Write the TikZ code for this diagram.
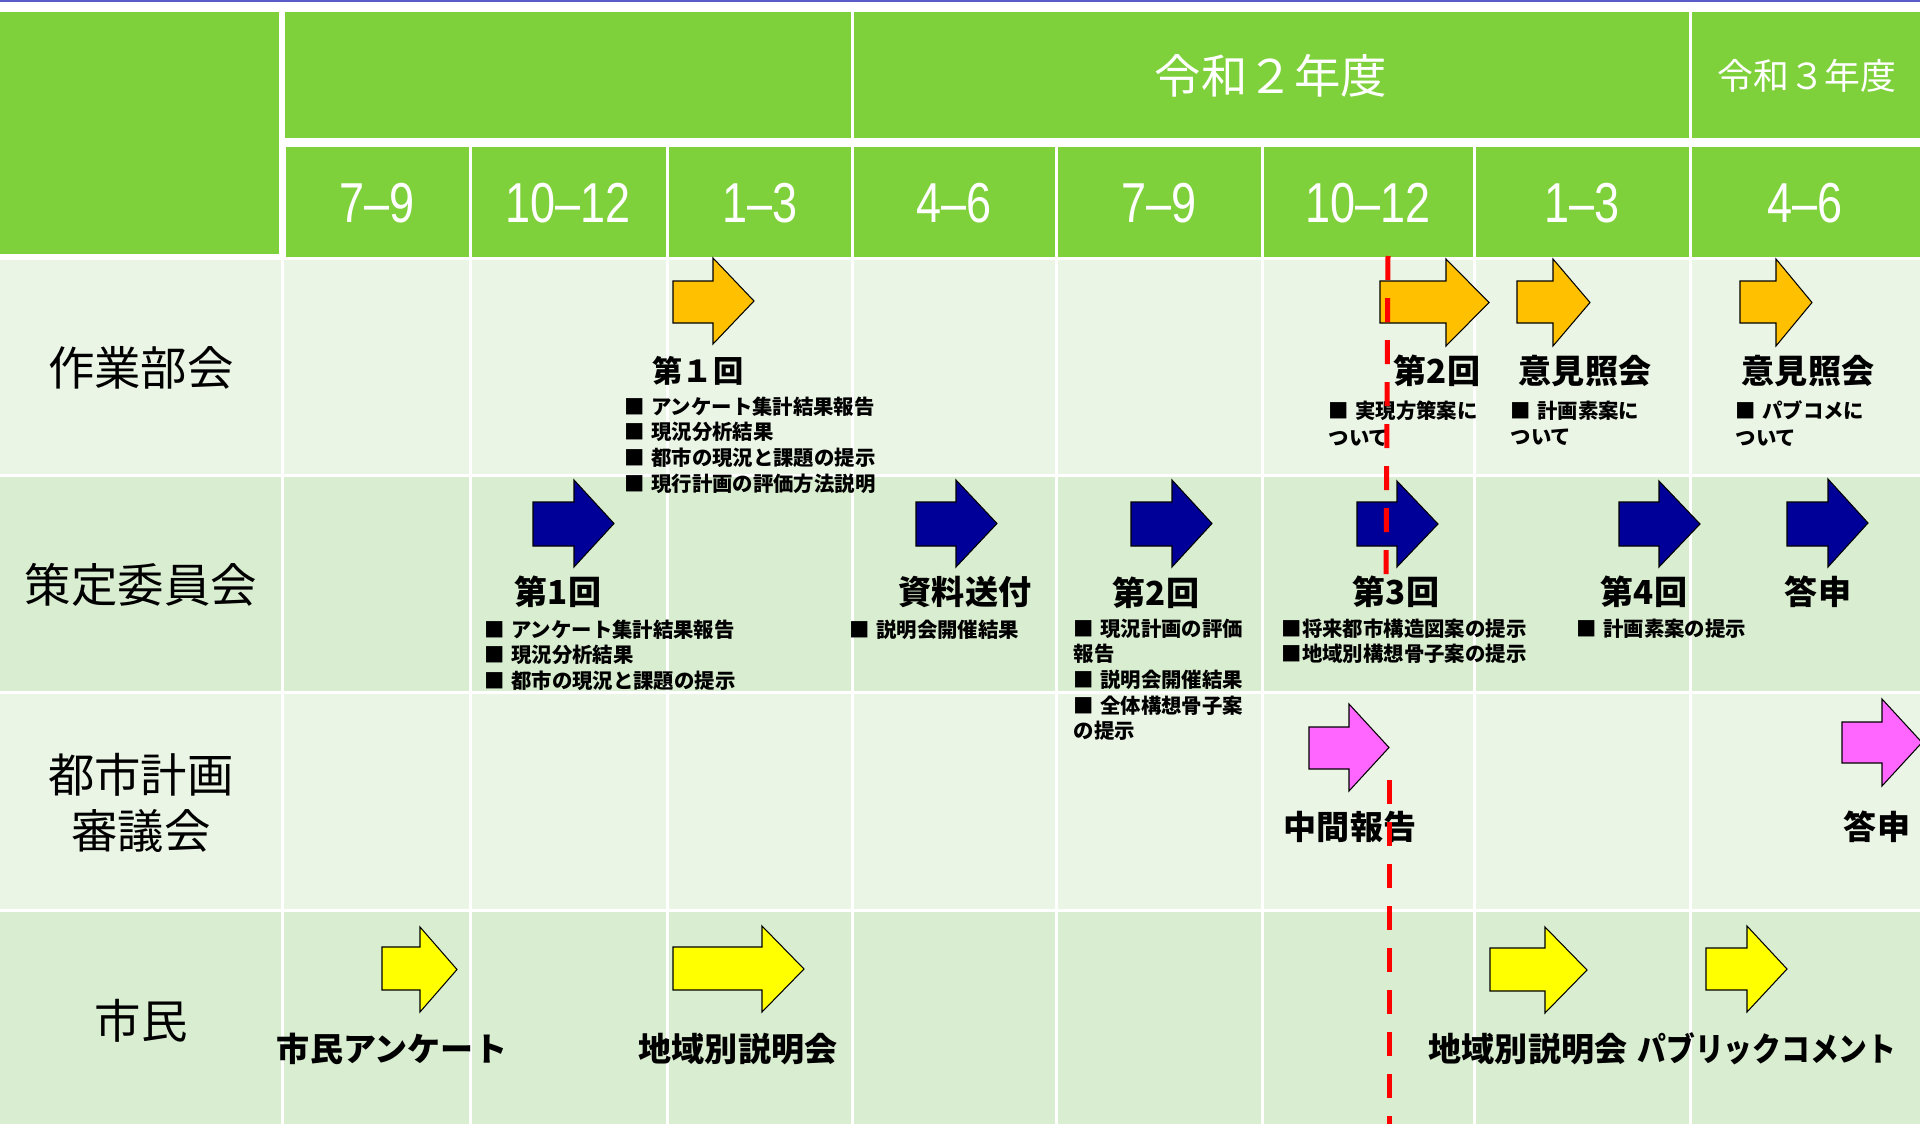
\documentclass[tikz,border=0pt]{standalone}
\usepackage{fontspec}
\setmainfont{Noto Sans CJK JP}
\newfontfamily\jp{Noto Sans CJK JP}
\newfontfamily\qf{Liberation Sans}[FakeStretch=0.8]
\definecolor{hdr}{RGB}{127,209,59}
\definecolor{rowA}{RGB}{235,245,230}
\definecolor{rowB}{RGB}{217,237,208}
\definecolor{topline}{RGB}{90,90,200}
\definecolor{orangeA}{RGB}{255,192,0}
\definecolor{navyA}{RGB}{0,0,153}
\definecolor{pinkA}{RGB}{255,102,255}
\definecolor{yellowA}{RGB}{255,255,0}
\definecolor{redA}{RGB}{255,0,0}
\newcommand{\barrow}[8]{%
  \fill[#1, draw=black, line width=0.3pt]
    (#2,#6) -- (#3,#6) -- (#3,#5) -- (#4,{(#5+#8)/2}) -- (#3,#8) -- (#3,#7) -- (#2,#7) -- cycle;}
\newcommand{\bq}{■\hspace{0.3em}}
\tikzset{
  rowlab/.style={font=\jp\fontsize{13.2}{16}\selectfont, inner sep=0, align=center, text=black},
  yearlab/.style={font=\jp\fontsize{13.2}{15}\selectfont, inner sep=0, text=white},
  qlab/.style={font=\qf\fontsize{16}{18}\selectfont, inner sep=0, text=white},
  head/.style={font=\jp\bfseries\fontsize{9.4}{11}\selectfont, inner sep=0, text=black},
  bullets/.style={font=\jp\bfseries\fontsize{5.8}{7.3}\selectfont, inner sep=0, align=left, anchor=north west, text=black},
  gridw/.style={draw=white, line width=0.03cm},
  nowline/.style={draw=redA, line width=0.05cm, dash pattern=on 0.24cm off 0.18cm}
}
\begin{document}
\begin{tikzpicture}[x=0.01cm, y=-0.01cm]
\useasboundingbox (0,0) rectangle (1920,1124);
\clip (0,0) rectangle (1920,1124);
\fill[white] (0,0) rectangle (1920,1124);
% top line
\draw[topline, line width=0.015cm] (0,0.8) -- (1920,0.8);
% header
\fill[hdr] (0,12) rectangle (279,254);
\fill[hdr] (285,12) rectangle (1920,138);
\fill[hdr] (286,147) rectangle (1920,257);
\foreach \x in {852.5,1690.5} \draw[gridw] (\x,12) -- (\x,138);
\foreach \x in {470,667.5,852.5,1056,1262,1474,1690} \draw[gridw] (\x,147) -- (\x,257);
% body rows
\fill[rowA] (0,260) rectangle (1920,475);
\fill[rowB] (0,475) rectangle (1920,692);
\fill[rowA] (0,692) rectangle (1920,910);
\fill[rowB] (0,910) rectangle (1920,1124);
\foreach \y in {475.5,692.5,910.5} \draw[gridw] (0,\y) -- (1920,\y);
\foreach \x in {282.5,470,667.5,852.5,1056,1262,1474,1690} \draw[gridw] (\x,258) -- (\x,1124);

% header texts
\node[yearlab] (y2) at (1271,76) {令和２年度};
\node[yearlab, font=\jp\fontsize{10.2}{12}\selectfont] (y3) at (1807,76) {令和３年度};
\node[qlab] (q1) at (377,203) {7–9};
\node[qlab] (q2) at (568,203) {10–12};
\node[qlab] (q3) at (760,203) {1–3};
\node[qlab] (q4) at (954,203) {4–6};
\node[qlab] (q5) at (1159,203) {7–9};
\node[qlab] (q6) at (1368,203) {10–12};
\node[qlab] (q7) at (1582,203) {1–3};
\node[qlab] (q8) at (1805,203) {4–6};

% row labels
\node[rowlab] (r1) at (141,368) {作業部会};
\node[rowlab] (r2) at (141,585) {策定委員会};
\node[rowlab] (r3) at (141,803) {都市計画\\審議会};
\node[rowlab] (r4) at (141,1021) {市民};

% arrows row 1 (orange)
\barrow{orangeA}{673}{713}{754}{258}{281}{323}{344}
\barrow{orangeA}{1380}{1446}{1489}{259}{281}{323}{346}
\barrow{orangeA}{1517}{1553}{1590}{259}{281}{323}{346}
\barrow{orangeA}{1740}{1776}{1812}{259}{281}{323}{346}
% arrows row 2 (navy)
\barrow{navyA}{533}{574}{614}{480}{502}{546}{567}
\barrow{navyA}{916}{956}{997}{480}{502}{546}{567}
\barrow{navyA}{1131}{1172}{1212}{480}{502}{546}{567}
\barrow{navyA}{1357}{1397}{1438}{481}{502}{546}{567}
\barrow{navyA}{1619}{1659}{1700}{481}{502}{546}{567}
\barrow{navyA}{1787}{1828}{1868}{479}{502}{546}{567}
% arrows row 3 (pink)
\barrow{pinkA}{1309}{1349}{1389}{704}{727}{769}{791}
\barrow{pinkA}{1842}{1882}{1922}{699}{722}{763}{786}
% arrows row 4 (yellow)
\barrow{yellowA}{382}{420}{457}{927}{947}{990}{1012}
\barrow{yellowA}{673}{762}{804}{926}{947}{990}{1012}
\barrow{yellowA}{1490}{1545}{1587}{927}{948}{991}{1013}
\barrow{yellowA}{1706}{1747}{1787}{926}{948}{990}{1012}

% row 1 texts
\node[head, font=\jp\bfseries\fontsize{8.6}{10}\selectfont] (w1) at (698,371) {第１回};
\node[bullets] (w1b) at (624,396) {\bq アンケート集計結果報告\\\bq 現況分析結果\\\bq 都市の現況と課題の提示\\\bq 現行計画の評価方法説明};
\node[head] (w2) at (1437,371) {第2回};
\node[bullets, font=\jp\bfseries\fontsize{5.8}{7.6}\selectfont] (w2b) at (1328,400) {\bq 実現方策案に\\ついて};
\node[head] (w3) at (1585,371) {意見照会};
\node[bullets, font=\jp\bfseries\fontsize{5.8}{7.6}\selectfont] (w3b) at (1510,400) {\bq 計画素案に\\ついて};
\node[head] (w4) at (1808,371) {意見照会};
\node[bullets, font=\jp\bfseries\fontsize{5.8}{7.6}\selectfont] (w4b) at (1735,400) {\bq パブコメに\\ついて};

% row 2 texts
\node[head] (s1) at (558,592) {第1回};
\node[bullets] (s1b) at (484,619) {\bq アンケート集計結果報告\\\bq 現況分析結果\\\bq 都市の現況と課題の提示};
\node[head] (s2) at (965,592) {資料送付};
\node[bullets] (s2b) at (849,619) {\bq 説明会開催結果};
\node[head] (s3) at (1156,593) {第2回};
\node[bullets] (s3b) at (1073,618) {\bq 現況計画の評価\\報告\\\bq 説明会開催結果\\\bq 全体構想骨子案\\の提示};
\node[head] (s4) at (1396,592) {第3回};
\node[bullets] (s4b) at (1281,618) {■将来都市構造図案の提示\\■地域別構想骨子案の提示};
\node[head] (s5) at (1644,592) {第4回};
\node[bullets] (s5b) at (1576,618) {\bq 計画素案の提示};
\node[head] (s6) at (1818,592) {答申};

% row 3 texts
\node[head] (c1) at (1350,827) {中間報告};
\node[head] (c2) at (1877,827) {答申};

% row 4 texts
\node[head] (p1) at (392,1049) {市民アンケート};
\node[head] (p2) at (738,1049) {地域別説明会};
\node[head] (p3) at (1528,1049) {地域別説明会};
\node[head] (p4) at (1767,1049) {\scalebox{0.87}[1]{パブリックコメント}};

% current-time line
\coordinate (nA1) at (1388,256);
\coordinate (nA2) at (1386,578);
\coordinate (nB1) at (1389,780);
\coordinate (nB2) at (1389,1124);
\draw[nowline] (nA1) -- (nA2);
\draw[nowline] (nB1) -- (nB2);
\end{tikzpicture}
\end{document}
